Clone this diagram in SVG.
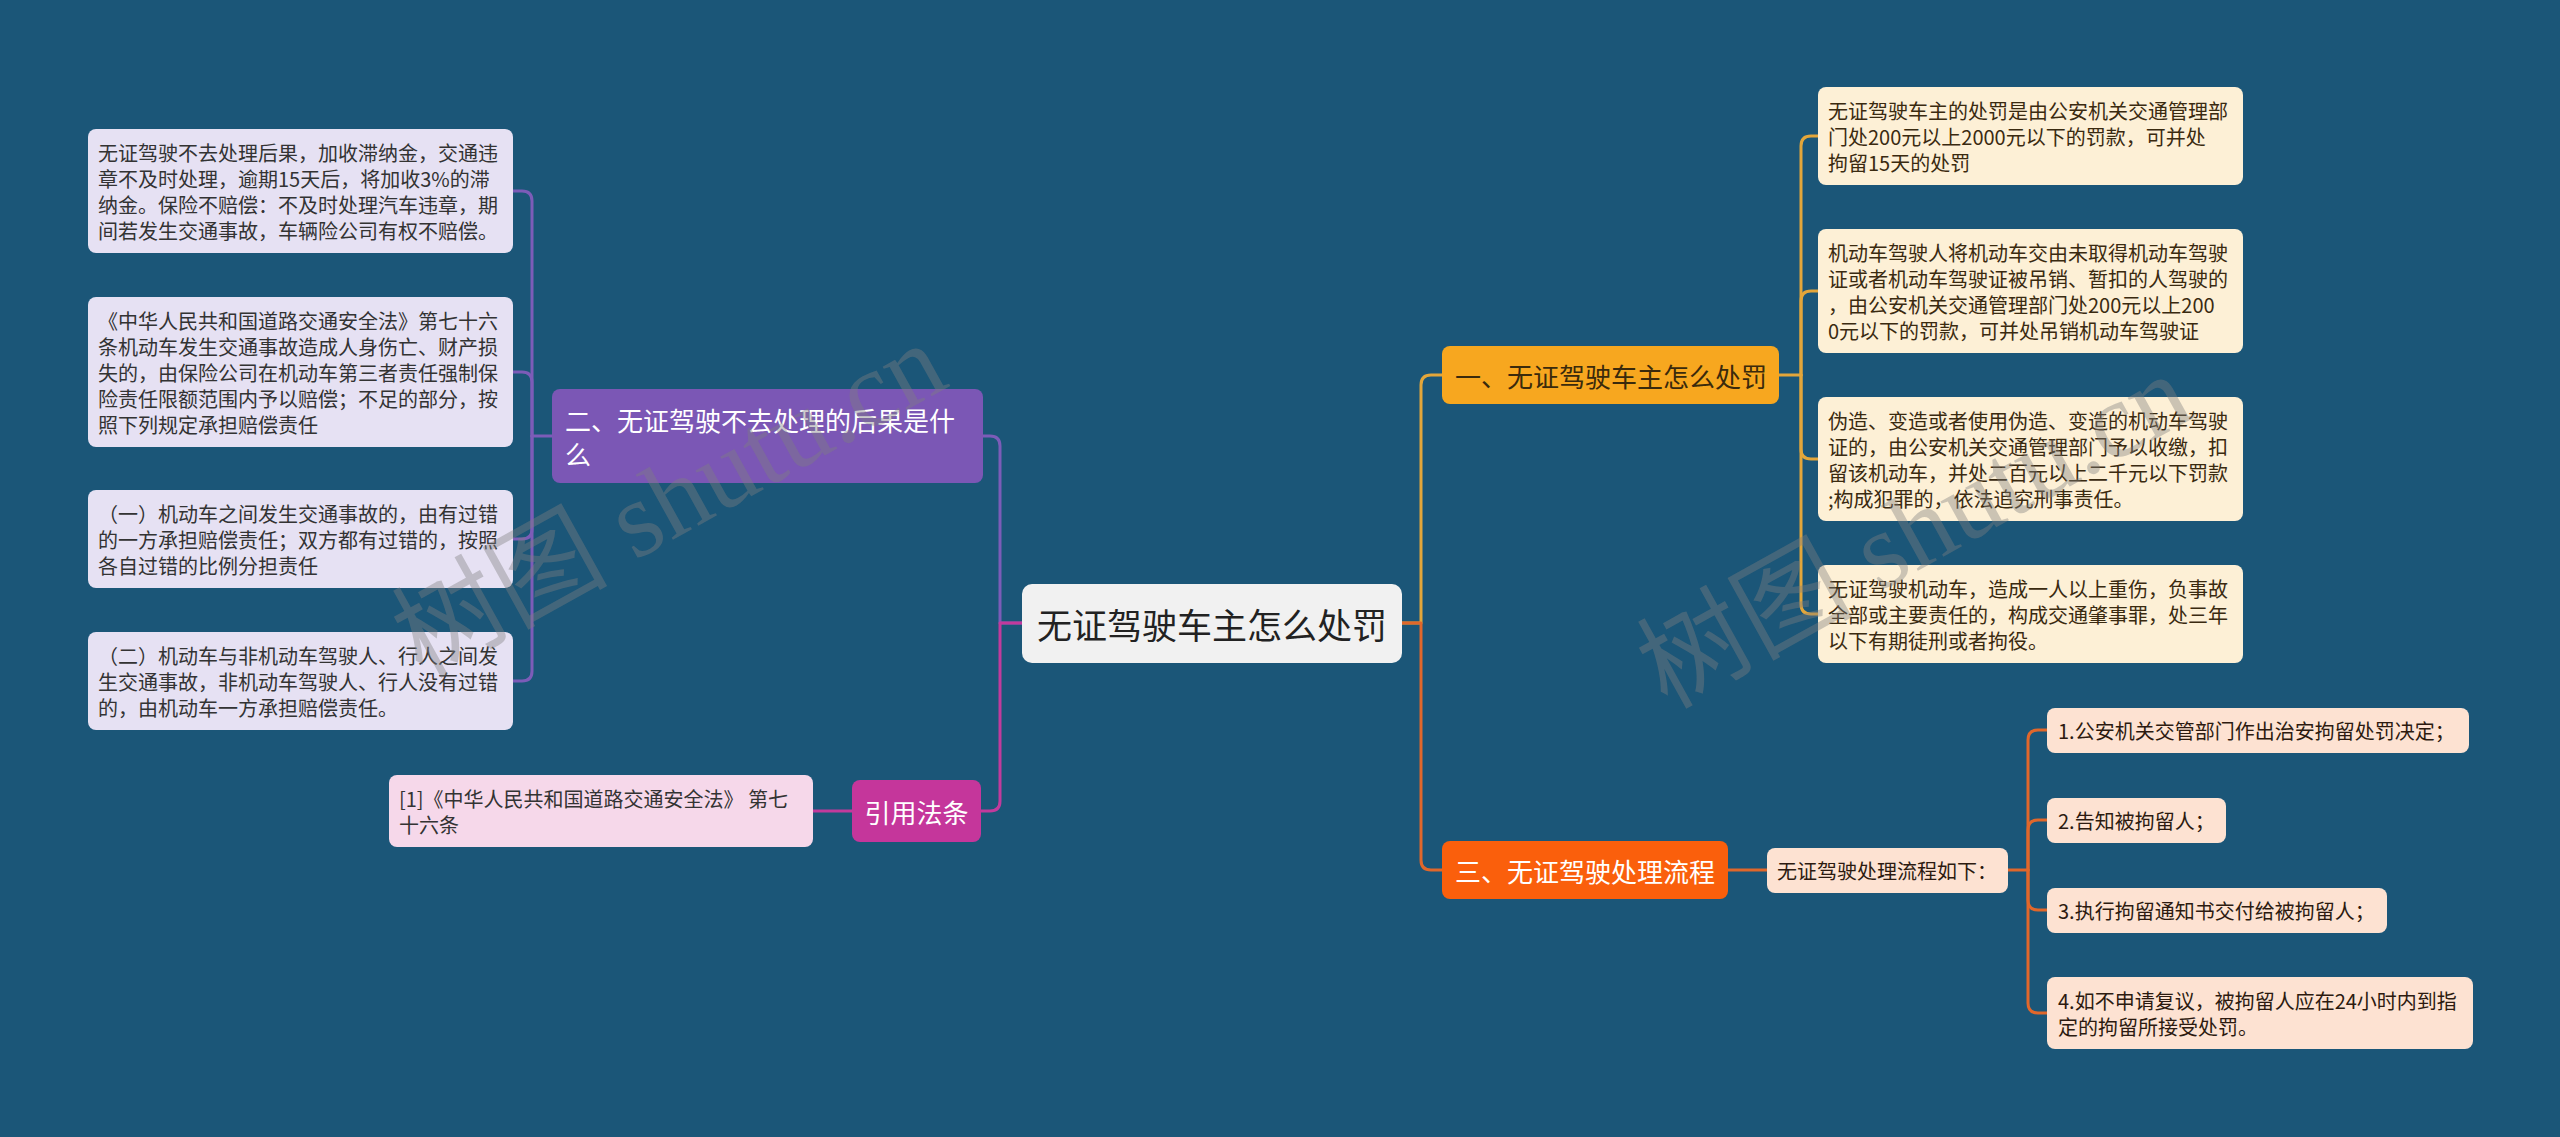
<svg xmlns="http://www.w3.org/2000/svg" width="2560" height="1137" viewBox="0 0 2560 1137">
<style>
text{font-family:"Noto Sans CJK SC","Noto Sans",sans-serif;dominant-baseline:central}
.t20{font-size:20px}
.lt{fill:#333333}
.rt{fill:#3a2a10}
.pt{fill:#2c1a10}
.conn{fill:none;stroke-width:3;stroke-linecap:round;stroke-linejoin:round}
.pur{stroke:#7c5cb8}
.mag{stroke:#c23a9c}
.yel{stroke:#e3a63a}
.ora{stroke:#e0672b}
.wm{font-family:"Liberation Serif","Noto Sans CJK SC",serif;font-size:108px;fill:#808080;fill-opacity:0.4}
</style>
<rect x="0" y="0" width="2560" height="1137" fill="#1b5678"/>

<g id="connectors">
  <path class="conn pur" d="M1022 623 H1000 V446 Q1000 436 990 436 H983"/>
  <path class="conn mag" d="M1022 623 H1000 V801 Q1000 811 990 811 H981"/>
  <path class="conn yel" d="M1402 623 H1421 V385 Q1421 375 1431 375 H1442"/>
  <path class="conn ora" d="M1402 623 H1421 V860 Q1421 870 1431 870 H1442"/>
  <path class="conn pur" d="M552 436 H532"/>
  <path class="conn pur" d="M532 436 V201 Q532 191 522 191 H513"/>
  <path class="conn pur" d="M532 436 V382 Q532 372 522 372 H513"/>
  <path class="conn pur" d="M532 436 V529 Q532 539 522 539 H513"/>
  <path class="conn pur" d="M532 436 V671 Q532 681 522 681 H513"/>
  <path class="conn mag" d="M852 811 H813"/>
  <path class="conn yel" d="M1779 375 H1801"/>
  <path class="conn yel" d="M1801 375 V146 Q1801 136 1811 136 H1818"/>
  <path class="conn yel" d="M1801 375 V301 Q1801 291 1811 291 H1818"/>
  <path class="conn yel" d="M1801 375 V449 Q1801 459 1811 459 H1818"/>
  <path class="conn yel" d="M1801 375 V604 Q1801 614 1811 614 H1818"/>
  <path class="conn ora" d="M1728 870 H1767"/>
  <path class="conn ora" d="M2008 870 H2028"/>
  <path class="conn ora" d="M2028 870 V740 Q2028 730 2038 730 H2047"/>
  <path class="conn ora" d="M2028 870 V830 Q2028 820 2038 820 H2047"/>
  <path class="conn ora" d="M2028 870 V900 Q2028 910 2038 910 H2047"/>
  <path class="conn ora" d="M2028 870 V1003 Q2028 1013 2038 1013 H2047"/>
</g>

<g id="center">
  <rect x="1022" y="584" width="380" height="79" rx="10" fill="#f1f1f1"/>
  <text x="1212" y="623" text-anchor="middle" font-size="35" fill="#222222">无证驾驶车主怎么处罚</text>
</g>

<g id="node-er">
  <rect x="552" y="389" width="431" height="94" rx="8" fill="#7b57b5"/>
  <text x="565" y="419" font-size="26" fill="#ffffff">二、无证驾驶不去处理的后果是什</text>
  <text x="565" y="453" font-size="26" fill="#ffffff">么</text>
</g>

<g id="node-l1">
  <rect x="88" y="129" width="425" height="124" rx="8" fill="#e6e1f3"/>
  <text class="t20 lt" x="98" y="152">无证驾驶不去处理后果，加收滞纳金，交通违</text>
  <text class="t20 lt" x="98" y="178">章不及时处理，逾期15天后，将加收3%的滞</text>
  <text class="t20 lt" x="98" y="204">纳金。保险不赔偿：不及时处理汽车违章，期</text>
  <text class="t20 lt" x="98" y="230">间若发生交通事故，车辆险公司有权不赔偿。</text>
</g>

<g id="node-l2">
  <rect x="88" y="297" width="425" height="150" rx="8" fill="#e6e1f3"/>
  <text class="t20 lt" x="98" y="320">《中华人民共和国道路交通安全法》第七十六</text>
  <text class="t20 lt" x="98" y="346">条机动车发生交通事故造成人身伤亡、财产损</text>
  <text class="t20 lt" x="98" y="372">失的，由保险公司在机动车第三者责任强制保</text>
  <text class="t20 lt" x="98" y="398">险责任限额范围内予以赔偿；不足的部分，按</text>
  <text class="t20 lt" x="98" y="424">照下列规定承担赔偿责任</text>
</g>

<g id="node-l3">
  <rect x="88" y="490" width="425" height="98" rx="8" fill="#e6e1f3"/>
  <text class="t20 lt" x="98" y="513">（一）机动车之间发生交通事故的，由有过错</text>
  <text class="t20 lt" x="98" y="539">的一方承担赔偿责任；双方都有过错的，按照</text>
  <text class="t20 lt" x="98" y="565">各自过错的比例分担责任</text>
</g>

<g id="node-l4">
  <rect x="88" y="632" width="425" height="98" rx="8" fill="#e6e1f3"/>
  <text class="t20 lt" x="98" y="655">（二）机动车与非机动车驾驶人、行人之间发</text>
  <text class="t20 lt" x="98" y="681">生交通事故，非机动车驾驶人、行人没有过错</text>
  <text class="t20 lt" x="98" y="707">的，由机动车一方承担赔偿责任。</text>
</g>

<g id="node-cite">
  <rect x="852" y="780" width="129" height="62" rx="8" fill="#c5369b"/>
  <text x="916.5" y="811" text-anchor="middle" font-size="26" fill="#ffffff">引用法条</text>
</g>

<g id="node-ref">
  <rect x="389" y="775" width="424" height="72" rx="8" fill="#f6d8ea"/>
  <text class="t20 lt" x="399" y="798">[1]《中华人民共和国道路交通安全法》 第七</text>
  <text class="t20 lt" x="399" y="824">十六条</text>
</g>

<g id="node-yi">
  <rect x="1442" y="346" width="337" height="58" rx="8" fill="#f7a71f"/>
  <text x="1455" y="375" font-size="26" fill="#3a2a0c">一、无证驾驶车主怎么处罚</text>
</g>

<g id="node-r1">
  <rect x="1818" y="87" width="425" height="98" rx="8" fill="#fdf0d6"/>
  <text class="t20 rt" x="1828" y="110">无证驾驶车主的处罚是由公安机关交通管理部</text>
  <text class="t20 rt" x="1828" y="136">门处200元以上2000元以下的罚款，可并处</text>
  <text class="t20 rt" x="1828" y="162">拘留15天的处罚</text>
</g>

<g id="node-r2">
  <rect x="1818" y="229" width="425" height="124" rx="8" fill="#fdf0d6"/>
  <text class="t20 rt" x="1828" y="252">机动车驾驶人将机动车交由未取得机动车驾驶</text>
  <text class="t20 rt" x="1828" y="278">证或者机动车驾驶证被吊销、暂扣的人驾驶的</text>
  <text class="t20 rt" x="1828" y="304">，由公安机关交通管理部门处200元以上200</text>
  <text class="t20 rt" x="1828" y="330">0元以下的罚款，可并处吊销机动车驾驶证</text>
</g>

<g id="node-r3">
  <rect x="1818" y="397" width="425" height="124" rx="8" fill="#fdf0d6"/>
  <text class="t20 rt" x="1828" y="420">伪造、变造或者使用伪造、变造的机动车驾驶</text>
  <text class="t20 rt" x="1828" y="446">证的，由公安机关交通管理部门予以收缴，扣</text>
  <text class="t20 rt" x="1828" y="472">留该机动车，并处二百元以上二千元以下罚款</text>
  <text class="t20 rt" x="1828" y="498">;构成犯罪的，依法追究刑事责任。</text>
</g>

<g id="node-r4">
  <rect x="1818" y="565" width="425" height="98" rx="8" fill="#fdf0d6"/>
  <text class="t20 rt" x="1828" y="588">无证驾驶机动车，造成一人以上重伤，负事故</text>
  <text class="t20 rt" x="1828" y="614">全部或主要责任的，构成交通肇事罪，处三年</text>
  <text class="t20 rt" x="1828" y="640">以下有期徒刑或者拘役。</text>
</g>

<g id="node-san">
  <rect x="1442" y="841" width="286" height="58" rx="8" fill="#fa5f0c"/>
  <text x="1455" y="870" font-size="26" fill="#ffffff">三、无证驾驶处理流程</text>
</g>

<g id="node-flow">
  <rect x="1767" y="848" width="241" height="45" rx="8" fill="#fde2d2"/>
  <text class="t20 pt" x="1777" y="870">无证驾驶处理流程如下：</text>
</g>

<g id="node-i1">
  <rect x="2047" y="708" width="422" height="45" rx="8" fill="#fde2d2"/>
  <text class="t20 pt" x="2058" y="730">1.公安机关交管部门作出治安拘留处罚决定；</text>
</g>
<g id="node-i2">
  <rect x="2047" y="798" width="179" height="45" rx="8" fill="#fde2d2"/>
  <text class="t20 pt" x="2058" y="820">2.告知被拘留人；</text>
</g>
<g id="node-i3">
  <rect x="2047" y="888" width="340" height="45" rx="8" fill="#fde2d2"/>
  <text class="t20 pt" x="2058" y="910">3.执行拘留通知书交付给被拘留人；</text>
</g>
<g id="node-i4">
  <rect x="2047" y="977" width="426" height="72" rx="8" fill="#fde2d2"/>
  <text class="t20 pt" x="2058" y="1000">4.如不申请复议，被拘留人应在24小时内到指</text>
  <text class="t20 pt" x="2058" y="1026">定的拘留所接受处罚。</text>
</g>

<g id="watermark">
  <text class="wm" x="669" y="500" text-anchor="middle" transform="rotate(-29 669 500)">树图 shutu.cn</text>
  <text class="wm" x="1914" y="531" text-anchor="middle" transform="rotate(-29 1914 531)">树图 shutu.cn</text>
</g>
</svg>
